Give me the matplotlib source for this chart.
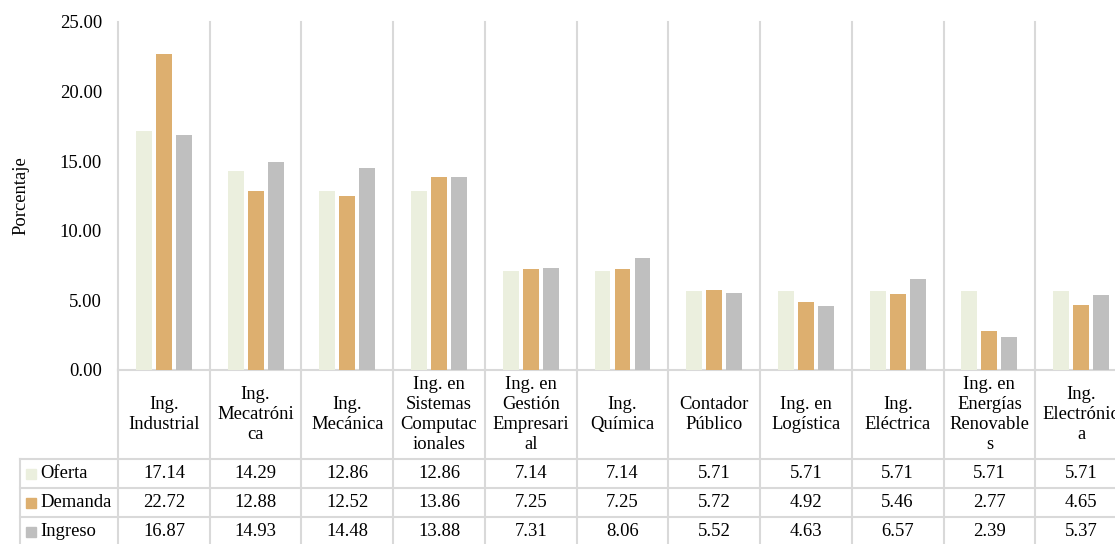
import matplotlib
matplotlib.use("Agg")
import matplotlib.pyplot as plt
import numpy as np

plt.rcParams['font.family'] = ['Liberation Serif', 'DejaVu Serif']

# Data
categories = [
    "Ing.\nIndustrial", "Ing.\nMecatróni\nca", "Ing.\nMecánica",
    "Ing. en\nSistemas\nComputac\nionales", "Ing. en\nGestión\nEmpresari\nal",
    "Ing.\nQuímica", "Contador\nPúblico", "Ing. en\nLogística",
    "Ing.\nEléctrica", "Ing. en\nEnergías\nRenovable\ns", "Ing.\nElectrónic\na",
]
series_names = ["Oferta", "Demanda", "Ingreso"]
oferta = [17.14, 14.29, 12.86, 12.86, 7.14, 7.14, 5.71, 5.71, 5.71, 5.71, 5.71]
demanda = [22.72, 12.88, 12.52, 13.86, 7.25, 7.25, 5.72, 4.92, 5.46, 2.77, 4.65]
ingreso = [16.87, 14.93, 14.48, 13.88, 7.31, 8.06, 5.52, 4.63, 6.57, 2.39, 5.37]
yticks = [0, 5, 10, 15, 20, 25]

colors = ["#EBEFDE", "#DDAF6F", "#BFBFBF"]
grid_c = "#D9D9D9"
fs = 13.4

W, H = 1115, 544
fig = plt.figure(figsize=(W / 100, H / 100), dpi=100)

# pixel layout of plot area
px_left, px_right = 118, 1127
px_top, px_base = 22, 370
n = len(categories)
cat_px = (px_right - px_left) / n

ax = fig.add_axes([px_left / W, (H - px_base) / H,
                   (px_right - px_left) / W, (px_base - px_top) / H])
x = np.arange(n)
bw = 0.174
step = 0.218
for k, vals in enumerate([oferta, demanda, ingreso]):
    ax.bar(x + (k - 1) * step, vals, width=bw, color=colors[k], zorder=3)

ax.set_xlim(-0.5, n - 0.5)
ax.set_ylim(0, 25)
ax.set_yticks(yticks)
ax.set_yticklabels([f"{v:.2f}" for v in yticks], fontsize=fs)
ax.tick_params(axis='y', length=0, pad=11.5)
ax.set_xticks([])
for s in ["top", "right", "left"]:
    ax.spines[s].set_visible(False)
ax.spines["bottom"].set_color(grid_c)
ax.spines["bottom"].set_linewidth(1.5)
for k in range(n + 1):
    ax.axvline(k - 0.5, color=grid_c, lw=1.5, zorder=1, clip_on=False)
ax.set_ylabel("Porcentaje", fontsize=fs)
ax.yaxis.set_label_coords(-89 / (px_right - px_left), 0.5)

# data table below the plot
tab_left_px = 20
tab_bottom_px = 547
tab = fig.add_axes([tab_left_px / W, (H - tab_bottom_px) / H,
                    (px_right - tab_left_px) / W, (tab_bottom_px - px_base) / H])
x_leg = -0.5 - (px_left - tab_left_px) / cat_px
tab.set_xlim(x_leg, n - 0.5)
tab.set_ylim(tab_bottom_px - px_base, 0)
tab.axis("off")

label_h = 89
row_h = 29
rows_y = [label_h + r * row_h for r in range(len(series_names) + 1)]

for yb in rows_y:
    tab.plot([x_leg, n - 0.5], [yb, yb], color=grid_c, lw=1.5, clip_on=False)
for k in range(n + 1):
    tab.plot([k - 0.5, k - 0.5], [0, rows_y[-1]], color=grid_c, lw=1.5, clip_on=False)
tab.plot([x_leg, x_leg], [rows_y[0], rows_y[-1]], color=grid_c, lw=1.5, clip_on=False)

for i, lab in enumerate(categories):
    tab.text(i, label_h / 2, lab, ha="center", va="center", multialignment="center",
             fontsize=fs, linespacing=1.22)

for r, (name, vals) in enumerate(zip(series_names, [oferta, demanda, ingreso])):
    yc = rows_y[r] + row_h / 2
    sq_x = x_leg + 6 / cat_px
    tab.add_patch(plt.Rectangle((sq_x, yc - 5), 10 / cat_px, 10,
                                color=colors[r], clip_on=False))
    tab.text(x_leg + 20 / cat_px, yc, name, ha="left", va="center", fontsize=fs)
    for i, v in enumerate(vals):
        tab.text(i, yc, f"{v:.2f}", ha="center", va="center", fontsize=fs)

fig.savefig("out.png", dpi=100)
